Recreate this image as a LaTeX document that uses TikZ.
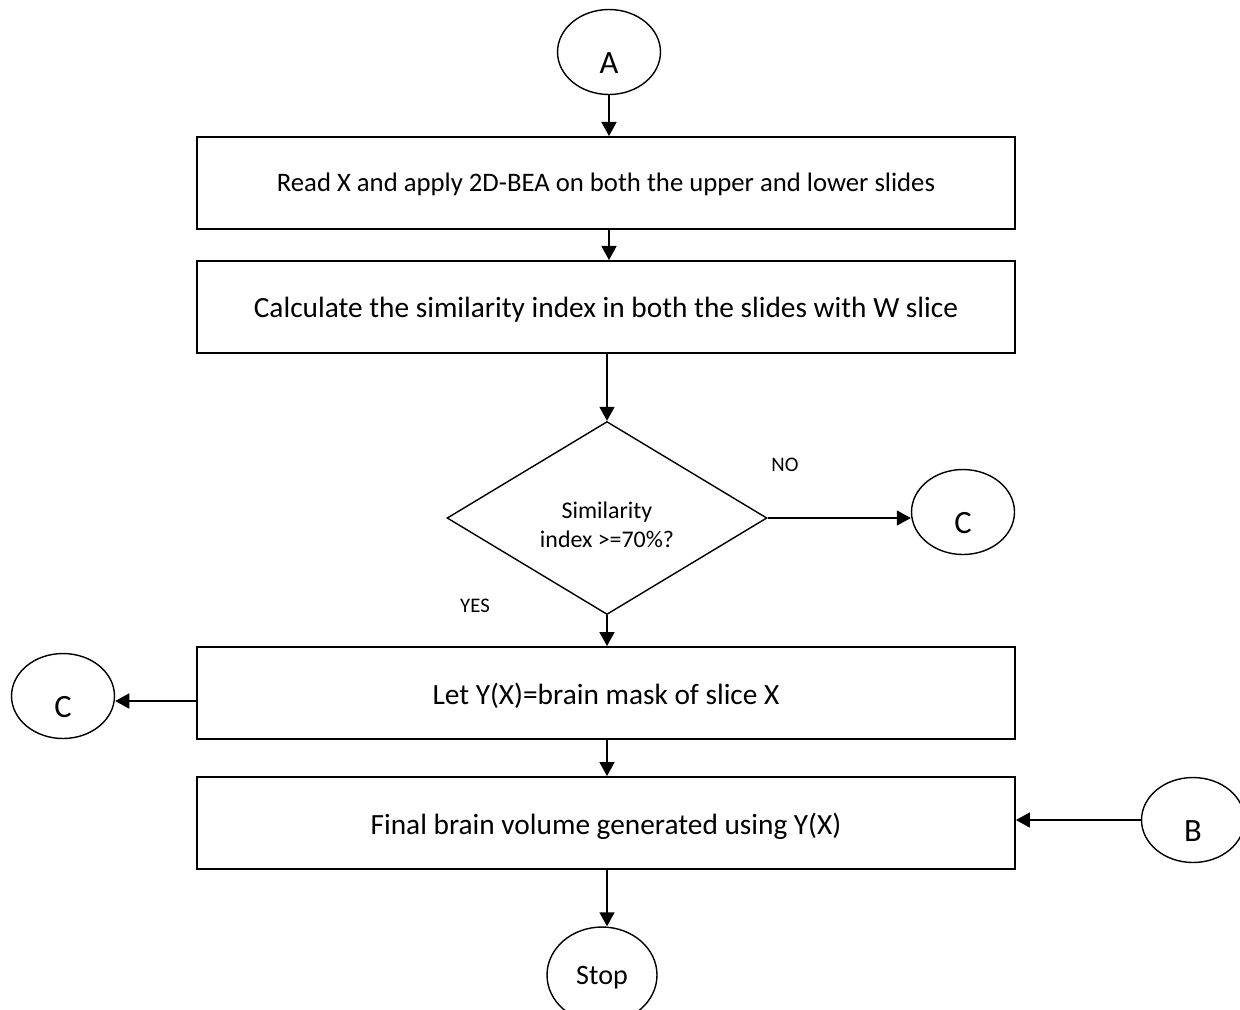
\documentclass[tikz,border=0pt]{standalone}
\usepackage{fontspec}
\setmainfont{Carlito}
\usetikzlibrary{shapes.geometric,arrows.meta}
\tikzset{
    flow-box/.style = {draw, line width=1.1pt, rectangle, minimum width=16.36cm, minimum height=1.84cm, inner sep=0pt, text height=12.5pt, text depth=0pt, font=\fontsize{16.7}{20}\selectfont},
    flow-term/.style = {draw, line width=0.8pt, ellipse, inner sep=0pt, minimum width=2.06cm, minimum height=1.7cm, text height=25pt, text depth=0pt, font=\fontsize{18.5}{22}\selectfont},
    flow-test/.style = {draw, line width=0.8pt, diamond, minimum width=6.4cm, minimum height=3.86cm, inner sep=0pt, text height=0pt, text depth=0pt, font=\fontsize{13.6}{16.6}\selectfont},
    flow-arrow/.style = {line width=1.1pt, -{Triangle[length=8pt,width=8.5pt]}},
    flow-tag/.style = {font=\fontsize{11.8}{14}\selectfont},
}

\begin{document}
\begin{tikzpicture}[x=0.02cm, y=-0.02cm]
\useasboundingbox (0,0) rectangle (1240,1009);
\node [flow-term] (a) at (609,52) {A};
\node [flow-box, text height=10.2pt, font=\fontsize{15.2}{18}\selectfont] (read) at (606,183) {Read X and apply 2D-BEA on both the upper and lower slides};
\node [flow-box] (calc) at (606,307) {Calculate the similarity index in both the slides with W slice};
\node [flow-test] (test) at (607,518) {\begin{tabular}[t]{@{}c@{}}Similarity\\index >=70\%?\end{tabular}};
\node [flow-term] (cright) at (963,512) {C};
\node [flow-box] (mask) at (606,693) {Let Y(X)=brain mask of slice X};
\node [flow-term] (cleft) at (63,696) {C};
\node [flow-box] (final) at (606,823) {Final brain volume generated using Y(X)};
\node [flow-term] (b) at (1193,820) {B};
\node [flow-term, minimum width=2.2cm, minimum height=1.92cm, text height=11pt, font=\fontsize{16}{19}\selectfont] (stop) at (602,975) {Stop};
\node [flow-tag] (no) at (785,465) {NO};
\node [flow-tag] (yes) at (475,606) {YES};

\draw [flow-arrow] (a) -- (a |- read.north);
\draw [flow-arrow] (read.south -| a) -- (calc.north -| a);
\draw [flow-arrow] (calc.south -| test.north) -- (test.north);
\draw [flow-arrow] (test.east) -- (test.east -| cright.west);
\draw [flow-arrow] (test.south) -- (test.south |- mask.north);
\draw [flow-arrow] (mask.west |- 0,701) -- (cleft.east |- 0,701);
\draw [flow-arrow] (mask.south -| test.south) -- (final.north -| test.south);
\draw [flow-arrow] (b.west) -- (final.east |- b.west);
\draw [flow-arrow] (final.south -| test.south) -- (test.south |- stop.north);
\end{tikzpicture}
\end{document}
